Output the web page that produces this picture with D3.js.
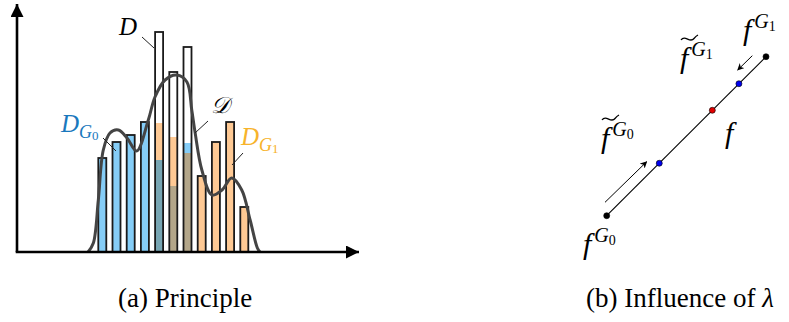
<!DOCTYPE html>
<html>
<head>
<meta charset="utf-8">
<script src="https://cdn.jsdelivr.net/npm/d3@7"></script>
<style>
  body { margin: 0; background: #fff; }
  svg { display: block; }
</style>
</head>
<body>
<svg id="fig" width="789" height="322"></svg>
<script>
// bins of the histogram and the three distributions over them
const bins = [1, 2, 3, 4, 5, 6, 7, 8, 9, 10, 11];
const dTotal = [9.4, 11.0, 11.7, 13.0, 22.0, 18.0, 20.5, 7.6, 11.0, 13.0, 4.5];
const dG0 = [9.4, 11.0, 11.7, 13.0, 9.2, 6.6, 10.9, 0, 0, 0, 0];
const dG1 = [0, 0, 0, 0, 12.9, 11.5, 9.9, 7.6, 11.0, 13.0, 4.5];

// smooth density curve (bin position, value)
const curveX = [0.0, 0.37, 0.72, 1.07, 1.54, 2.13, 2.74, 3.42, 4.24, 4.71, 5.42, 6.24, 6.96, 7.3, 7.54, 8.01, 8.72, 9.43, 10.11, 10.82, 11.41, 11.92, 12.1];
const curveY = [0.0, 0.9, 5.2, 10.2, 11.9, 12.2, 11.4, 10.1, 13.2, 15.5, 17.2, 17.7, 17.0, 14.2, 11.9, 8.2, 5.7, 6.2, 7.4, 6.2, 3.2, 0.4, 0.0];

// panel (b): points along the segment f^G0 -> f^G1
const lambdaT = [0, 0.33, 0.663, 0.83, 1];
const lambdaKind = ["end", "mid", "f", "mid", "end"];

const captions = ["(a) Principle", "(b) Influence of "];

const serif = "Liberation Serif";
const blue = "#85cdf7", orange = "#fec994";
const tealMix = "#78a6b3", khakiMix = "#b3a689";
const blueText = "#1a78bd", orangeText = "#f7b32b";

const svg = d3.select("#fig");

// ---------- panel (a) ----------
const x = d3.scaleLinear().domain([1, 11]).range([102.3, 244.3]);
const y = d3.scaleLinear().domain([0, 22]).range([252, 32]);
const barW = 8;

const defs = svg.append("defs");
defs.append("marker")
  .attr("id", "bigArrow")
  .attr("viewBox", "0 0 10 10")
  .attr("refX", 10).attr("refY", 5)
  .attr("markerWidth", 13).attr("markerHeight", 13)
  .attr("markerUnits", "userSpaceOnUse")
  .attr("orient", "auto")
  .append("path").attr("d", "M0,0L10,5L0,10Z").attr("fill", "#000");
defs.append("marker")
  .attr("id", "smallArrow")
  .attr("viewBox", "0 0 10 10")
  .attr("refX", 9).attr("refY", 5)
  .attr("markerWidth", 7).attr("markerHeight", 7)
  .attr("markerUnits", "userSpaceOnUse")
  .attr("orient", "auto")
  .append("path").attr("d", "M0,0L10,5L0,10L3,5Z").attr("fill", "#000");

const a = svg.append("g");

const barData = bins.map((b, i) => ({
  bin: b, total: dTotal[i], g0: dG0[i], g1: dG1[i]
}));

const bars = a.append("g").selectAll("g")
  .data(barData)
  .enter().append("g")
  .attr("transform", d => "translate(" + (x(d.bin) - barW / 2) + ",0)");

// the larger group, pure colour
bars.append("rect")
  .attr("y", d => y(Math.max(d.g0, d.g1)))
  .attr("width", barW)
  .attr("height", d => y(0) - y(Math.max(d.g0, d.g1)))
  .attr("fill", d => d.g0 >= d.g1 ? blue : orange);

// overlap of both groups
bars.filter(d => d.g0 > 0 && d.g1 > 0)
  .append("rect")
  .attr("y", d => y(Math.min(d.g0, d.g1)))
  .attr("width", barW)
  .attr("height", d => y(0) - y(Math.min(d.g0, d.g1)))
  .attr("fill", d => d.bin === 5 ? tealMix : khakiMix);

// outline of D
bars.append("rect")
  .attr("y", d => y(d.total))
  .attr("width", barW)
  .attr("height", d => y(0) - y(d.total))
  .attr("fill", "none")
  .attr("stroke", "#1a1a1a")
  .attr("stroke-width", 1.8);

const line = d3.line()
  .x(d => x(d[0]))
  .y(d => y(d[1]))
  .curve(d3.curveCatmullRom.alpha(0.5));

a.append("path")
  .datum(curveX.map((v, i) => [v, curveY[i]]))
  .attr("d", line)
  .attr("fill", "none")
  .attr("stroke", "#444")
  .attr("stroke-width", 3);

// axes
a.append("line")
  .attr("x1", 17).attr("y1", y(0)).attr("x2", 17).attr("y2", 4)
  .attr("stroke", "#000").attr("stroke-width", 2.6)
  .attr("marker-end", "url(#bigArrow)");
a.append("line")
  .attr("x1", 15.7).attr("y1", y(0)).attr("x2", 359).attr("y2", y(0))
  .attr("stroke", "#000").attr("stroke-width", 2.6)
  .attr("marker-end", "url(#bigArrow)");

// labels and leaders
const leaders = [
  [142, 37, 154, 48],
  [208, 121, 195, 133],
  [103, 138, 116, 151],
  [243, 153, 232, 165]
];
a.append("g").selectAll("line")
  .data(leaders)
  .enter().append("line")
  .attr("x1", d => d[0]).attr("y1", d => d[1])
  .attr("x2", d => d[2]).attr("y2", d => d[3])
  .attr("stroke", "#222").attr("stroke-width", 1);

function mathText(g, xp, yp, size) {
  return g.append("text")
    .attr("font-family", serif).attr("font-style", "italic")
    .attr("x", xp).attr("y", yp).attr("font-size", size);
}

mathText(a, 119, 35, 25).text("D");
mathText(a, 211, 113, 23).text("\ud835\udc9f");

const dg0 = mathText(a, 61, 132, 25).attr("fill", blueText);
dg0.append("tspan").text("D");
dg0.append("tspan").attr("dy", 6).attr("font-size", 18).text("G");
dg0.append("tspan").attr("dy", 2).attr("font-size", 13).attr("font-style", "normal").text("0");

const dg1 = mathText(a, 241, 145, 25).attr("fill", orangeText);
dg1.append("tspan").text("D");
dg1.append("tspan").attr("dy", 6).attr("font-size", 18).text("G");
dg1.append("tspan").attr("dy", 2).attr("font-size", 13).attr("font-style", "normal").text("1");

// ---------- panel (b) ----------
const start = [606.7, 215.7], end = [766, 56.7];
const px = d3.scaleLinear().domain([0, 1]).range([start[0], end[0]]);
const py = d3.scaleLinear().domain([0, 1]).range([start[1], end[1]]);

const b = svg.append("g");
b.append("line")
  .attr("x1", px(0)).attr("y1", py(0)).attr("x2", px(1)).attr("y2", py(1))
  .attr("stroke", "#000").attr("stroke-width", 1.1);

b.append("g").selectAll("circle")
  .data(lambdaT.map((t, i) => ({ t: t, kind: lambdaKind[i] })))
  .enter().append("circle")
  .attr("cx", d => px(d.t)).attr("cy", d => py(d.t))
  .attr("r", 3)
  .attr("fill", d => d.kind === "end" ? "#000" : d.kind === "f" ? "#e00000" : "#0000ee")
  .attr("stroke", "#000").attr("stroke-width", 0.6);

b.append("line")
  .attr("x1", 605).attr("y1", 202.3).attr("x2", 646.7).attr("y2", 161.7)
  .attr("stroke", "#000").attr("stroke-width", 1)
  .attr("marker-end", "url(#smallArrow)");
b.append("line")
  .attr("x1", 752.3).attr("y1", 55.7).attr("x2", 737.7).attr("y2", 70)
  .attr("stroke", "#000").attr("stroke-width", 1)
  .attr("marker-end", "url(#smallArrow)");

function fLabel(xp, yp, sub, tilde) {
  const t = mathText(b, xp, yp, 30);
  t.append("tspan").text("f");
  if (sub !== null) {
    t.append("tspan").attr("dx", 3).attr("dy", -12).attr("font-size", 20).text("G");
    t.append("tspan").attr("dy", 3).attr("font-size", 14).attr("font-style", "normal").text(sub);
  }
  if (tilde) {
    b.append("path")
      .attr("d", "M" + (xp + 1) + "," + (yp - 28) + " c4,-6 9,4 13,-1.5 c2,-2.5 3,-3 4,-3.5")
      .attr("fill", "none").attr("stroke", "#000").attr("stroke-width", 1.3);
  }
}
fLabel(743, 40, "1", false);
fLabel(680, 68, "1", true);
fLabel(601, 148, "0", true);
fLabel(725, 143, null, false);
fLabel(583, 254, "0", false);

// captions
svg.append("text").attr("font-family", serif).attr("font-size", 27)
  .attr("x", 118).attr("y", 307).text(captions[0]);
const c2 = svg.append("text").attr("font-family", serif).attr("font-size", 27)
  .attr("x", 586).attr("y", 307);
c2.append("tspan").text(captions[1]);
c2.append("tspan").attr("font-style", "italic").text("\u03bb");
</script>
</body>
</html>
